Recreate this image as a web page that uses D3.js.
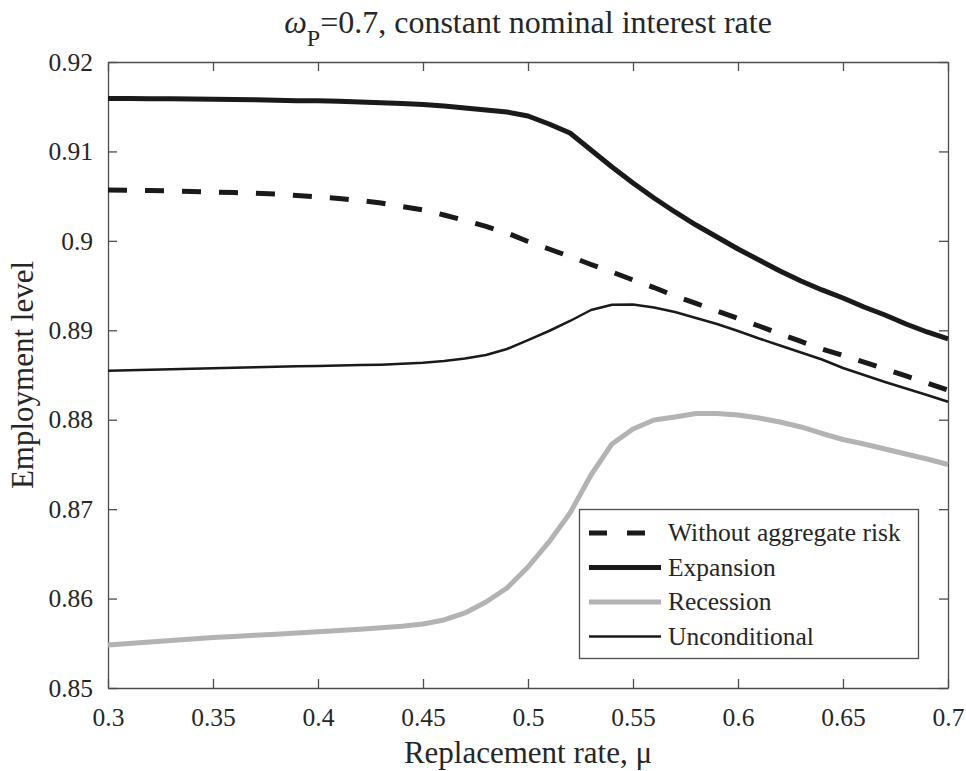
<!DOCTYPE html>
<html>
<head>
<meta charset="utf-8">
<script src="https://cdn.jsdelivr.net/npm/d3@7"></script>
<style>
  body { margin: 0; background: #fff; }
  svg { display: block; font-family: "Liberation Serif", "Times New Roman", serif; }
</style>
</head>
<body>
<div id="chart"></div>
<script>
// replacement rate grid, 0.30 .. 0.70
const mu = [0.30, 0.31, 0.32, 0.33, 0.34, 0.35, 0.36, 0.37, 0.38, 0.39,
  0.40, 0.41, 0.42, 0.43, 0.44, 0.45, 0.46, 0.47, 0.48, 0.49,
  0.50, 0.51, 0.52, 0.53, 0.54, 0.55, 0.56, 0.57, 0.58, 0.59,
  0.60, 0.61, 0.62, 0.63, 0.64, 0.65, 0.66, 0.67, 0.68, 0.69, 0.70];

const noRisk = [0.90569, 0.90565, 0.90562, 0.90558, 0.90552, 0.90546, 0.90540, 0.90533, 0.90524, 0.90507,
  0.90490, 0.90474, 0.90451, 0.90423, 0.90384, 0.90345, 0.90289, 0.90228, 0.90161, 0.90088,
  0.89993, 0.89909, 0.89825, 0.89736, 0.89652, 0.89562, 0.89478, 0.89383, 0.89300, 0.89216,
  0.89132, 0.89048, 0.88959, 0.88875, 0.88791, 0.88718, 0.88645, 0.88567, 0.88489, 0.88411, 0.88332];

const expansion = [0.91592, 0.91591, 0.91590, 0.91589, 0.91586, 0.91584, 0.91581, 0.91577, 0.91573, 0.91568,
  0.91567, 0.91561, 0.91553, 0.91544, 0.91536, 0.91525, 0.91508, 0.91486, 0.91463, 0.91441,
  0.91396, 0.91307, 0.91206, 0.91016, 0.90826, 0.90647, 0.90479, 0.90323, 0.90177, 0.90043,
  0.89909, 0.89786, 0.89663, 0.89551, 0.89451, 0.89361, 0.89260, 0.89171, 0.89070, 0.88981, 0.88903];

const recession = [0.85481, 0.85498, 0.85514, 0.85531, 0.85548, 0.85565, 0.85576, 0.85589, 0.85602, 0.85615,
  0.85629, 0.85643, 0.85658, 0.85673, 0.85691, 0.85716, 0.85761, 0.85839, 0.85962, 0.86118,
  0.86353, 0.86633, 0.86957, 0.87382, 0.87729, 0.87896, 0.87997, 0.88030, 0.88070, 0.88070,
  0.88053, 0.88019, 0.87974, 0.87919, 0.87846, 0.87779, 0.87729, 0.87673, 0.87617, 0.87561, 0.87499];

const unconditional = [0.88548, 0.88554, 0.88559, 0.88565, 0.88570, 0.88576, 0.88582, 0.88587, 0.88593, 0.88597,
  0.88602, 0.88606, 0.88611, 0.88616, 0.88625, 0.88636, 0.88657, 0.88685, 0.88724, 0.88791,
  0.88891, 0.88992, 0.89104, 0.89227, 0.89286, 0.89288, 0.89255, 0.89204, 0.89137, 0.89070,
  0.88992, 0.88908, 0.88830, 0.88752, 0.88673, 0.88578, 0.88500, 0.88422, 0.88349, 0.88276, 0.88201];

const xTicks = [0.3, 0.35, 0.4, 0.45, 0.5, 0.55, 0.6, 0.65, 0.7];
const yTicks = [0.85, 0.86, 0.87, 0.88, 0.89, 0.9, 0.91, 0.92];

const seriesNames = ["Without aggregate risk", "Expansion", "Recession", "Unconditional"];

const width = 966, height = 771;
const margin = {top: 62, right: 18, bottom: 83, left: 108};
const textColor = "#262626";
const axisColor = "#4d4d4d";

const styles = {
  "Without aggregate risk": {color: "#1a1a1a", width: 5, dash: "19,18"},
  "Expansion": {color: "#1a1a1a", width: 5, dash: null},
  "Recession": {color: "#b3b3b3", width: 5, dash: null},
  "Unconditional": {color: "#1a1a1a", width: 2.5, dash: null}
};

const series = [
  {name: seriesNames[0], values: noRisk},
  {name: seriesNames[1], values: expansion},
  {name: seriesNames[2], values: recession},
  {name: seriesNames[3], values: unconditional}
];

const svg = d3.select("#chart").append("svg")
  .attr("width", width)
  .attr("height", height);

const x = d3.scaleLinear()
  .domain([0.3, 0.7])
  .range([margin.left, width - margin.right]);
const y = d3.scaleLinear()
  .domain([0.85, 0.92])
  .range([height - margin.bottom, margin.top]);

const fmt = d => String(+d.toFixed(2));
const tickLen = 9;

// axes with inward ticks, on all four sides (box on)
const axes = [
  {axis: d3.axisBottom(x).tickValues(xTicks).tickFormat(fmt), t: `translate(0,${y(0.85)})`, pad: 20},
  {axis: d3.axisTop(x).tickValues(xTicks).tickFormat(""), t: `translate(0,${y(0.92)})`, pad: 0},
  {axis: d3.axisLeft(y).tickValues(yTicks).tickFormat(fmt), t: `translate(${x(0.3)},0)`, pad: 15},
  {axis: d3.axisRight(y).tickValues(yTicks).tickFormat(""), t: `translate(${x(0.7)},0)`, pad: 0}
];

axes.forEach(a => {
  const g = svg.append("g")
    .attr("transform", a.t)
    .call(a.axis.tickSizeInner(-tickLen).tickSizeOuter(0).tickPadding(a.pad));
  g.select(".domain").attr("stroke", axisColor).attr("stroke-width", 1.3);
  g.selectAll(".tick line").attr("stroke", axisColor).attr("stroke-width", 1.3);
  g.selectAll(".tick text")
    .attr("fill", textColor)
    .style("font-size", "25.5px")
    .style("font-family", "Liberation Serif");
});

const line = d3.line()
  .x((d, i) => x(mu[i]))
  .y(d => y(d));

const plot = svg.append("g");
// draw in order so thin unconditional sits on top
[series[2], series[0], series[1], series[3]].forEach(s => {
  const st = styles[s.name];
  plot.append("path")
    .datum(s.values)
    .attr("fill", "none")
    .attr("stroke", st.color)
    .attr("stroke-width", st.width)
    .attr("stroke-dasharray", st.dash)
    .attr("stroke-linejoin", "round")
    .attr("d", line);
});

// title
const title = svg.append("text")
  .attr("x", (margin.left + width - margin.right) / 2)
  .attr("y", 33)
  .attr("text-anchor", "middle")
  .attr("fill", textColor)
  .style("font-size", "32px");
title.append("tspan").style("font-style", "italic").text("\u03C9");
title.append("tspan").attr("dy", 13).style("font-size", "24px").text("P");
title.append("tspan").attr("dy", -13).text("=0.7, constant nominal interest rate");

// axis labels
svg.append("text")
  .attr("x", (margin.left + width - margin.right) / 2)
  .attr("y", 763)
  .attr("text-anchor", "middle")
  .attr("fill", textColor)
  .style("font-size", "31px")
  .text("Replacement rate, \u03BC");

svg.append("text")
  .attr("transform", `translate(33,${(margin.top + height - margin.bottom) / 2}) rotate(-90)`)
  .attr("text-anchor", "middle")
  .attr("fill", textColor)
  .style("font-size", "31px")
  .text("Employment level");

// legend
const legend = svg.append("g");
legend.append("rect")
  .attr("x", 579.5)
  .attr("y", 509.5)
  .attr("width", 339)
  .attr("height", 149)
  .attr("fill", "#fff")
  .attr("stroke", axisColor)
  .attr("stroke-width", 1.3);

seriesNames.forEach((name, i) => {
  const st = styles[name];
  const cy = 533 + i * 34.5;
  legend.append("line")
    .attr("x1", 589).attr("x2", 661)
    .attr("y1", cy).attr("y2", cy)
    .attr("stroke", st.color)
    .attr("stroke-width", st.width)
    .attr("stroke-dasharray", st.dash ? "18,20" : null);
  legend.append("text")
    .attr("x", 668)
    .attr("y", cy + 8)
    .attr("fill", textColor)
    .style("font-size", "25.5px")
    .text(name);
});
</script>
</body>
</html>
